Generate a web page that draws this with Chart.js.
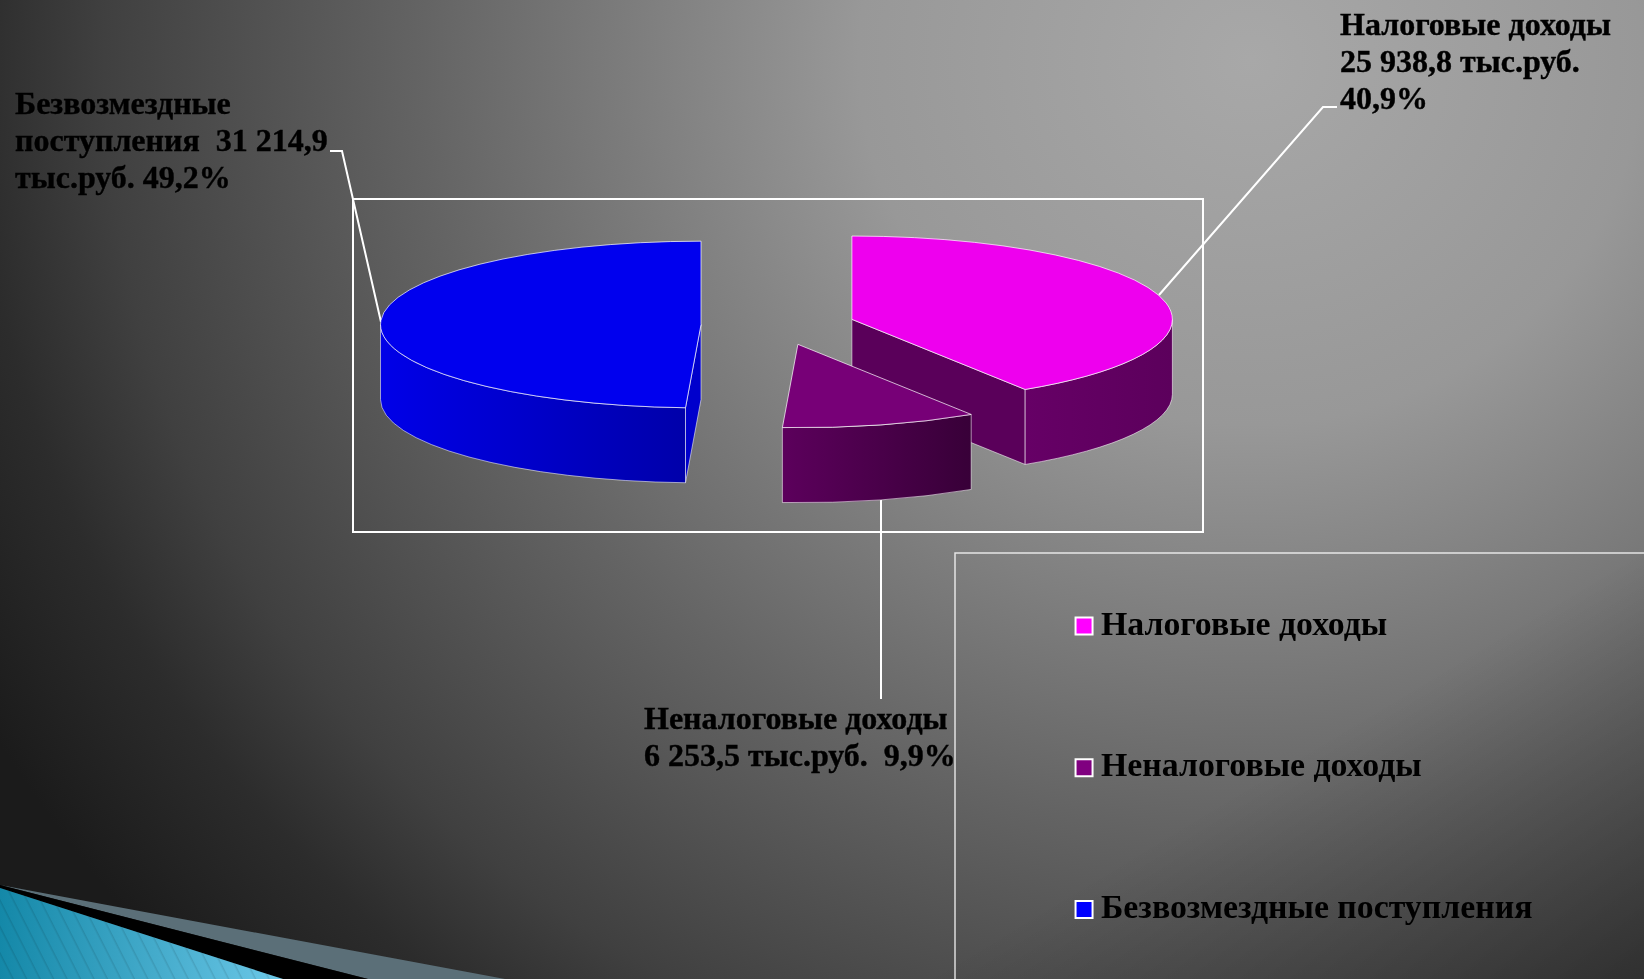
<!DOCTYPE html>
<html lang="ru">
<head>
<meta charset="utf-8">
<title>Доходы</title>
<script src="https://cdn.jsdelivr.net/npm/chart.js@4"></script>
<style>
  html, body { margin: 0; padding: 0; width: 1644px; height: 979px; overflow: hidden; }
  body {
    background:
      linear-gradient(to top left, rgba(0,0,0,0.35), rgba(0,0,0,0) 22%),
      radial-gradient(ellipse 1450px 1350px at 1250px 60px, #a8a8a8 0, #989898 27%, #646464 57%, #404040 79%, #2c2c2c 88%, #1b1b1b 100%);
  }
  #deco, #chart { position: absolute; left: 0; top: 0; }
</style>
</head>
<body>
<svg id="deco" width="1644" height="979">
  <defs>
    <linearGradient id="teal" x1="0" y1="0" x2="1" y2="0">
      <stop offset="0" stop-color="#1488a8"/>
      <stop offset="1" stop-color="#6cc8e8"/>
    </linearGradient>
    <pattern id="hatch" width="12" height="12" patternUnits="userSpaceOnUse" patternTransform="rotate(63)">
      <rect width="12" height="1.5" fill="rgba(0,0,0,0.1)"/>
    </pattern>
  </defs>
  <polygon points="0,885 505,979 368,979" fill="#5b6f78"/>
  <polygon points="0,885 368,979 283,979 0,888" fill="#000"/>
  <polygon points="0,888 283,979 0,979" fill="url(#teal)"/>
  <polygon points="0,888 283,979 0,979" fill="url(#hatch)"/>
</svg>
<canvas id="chart" width="1644" height="979"></canvas>
<script>
const categories = ['Налоговые доходы', 'Неналоговые доходы', 'Безвозмездные поступления']
const values = [25938.8, 6253.5, 31214.9]

const topColors = ['#ee00ee', '#770077', '#0000ee']
const legendColors = ['#ff00ff', '#800080', '#0000ff']
const wallColors = [['#660066', '#5c005c'], ['#5c005c', '#380038'], ['#0000e8', '#0000aa']]
const faceColors = ['#5a005a', '#4a004a', '#0000cc']

const labelLines = [
  ['Налоговые доходы', '25 938,8 тыс.руб.', '40,9%'],
  ['Неналоговые доходы', '6 253,5 тыс.руб.  9,9%'],
  ['Безвозмездные', 'поступления  31 214,9', 'тыс.руб. 49,2%'],
]
const labelAnchors = [[1340, 35], [644, 729], [15, 114]]
const leaders = [
  [[1159, 295], [1323, 107], [1337, 107]],
  [[881, 500], [881, 699]],
  [[381, 322], [342, 151], [330, 151]],
]

const RADIUS = 320.5
const SQUASH = 0.26
const DEPTH = 75
const EXPLODE = 77
const LABEL_FONT = 'bold 32px "Liberation Serif"'

// top face of a slice in screen coordinates
function screenProps(arc, chart) {
  const cy = (chart.chartArea.top + chart.chartArea.bottom) / 2
  return {
    x: arc.x,
    y: cy + (arc.y - cy) * SQUASH,
    a0: arc.startAngle,
    a1: arc.endAngle,
  }
}

function topPath(ctx, s) {
  ctx.beginPath()
  ctx.moveTo(s.x, s.y)
  ctx.ellipse(s.x, s.y, RADIUS, RADIUS * SQUASH, 0, s.a0, s.a1)
  ctx.closePath()
}

function wallPath(ctx, s, from, to) {
  ctx.beginPath()
  ctx.ellipse(s.x, s.y, RADIUS, RADIUS * SQUASH, 0, from, to)
  ctx.ellipse(s.x, s.y + DEPTH, RADIUS, RADIUS * SQUASH, 0, to, from, true)
  ctx.closePath()
}

function facePath(ctx, s, angle) {
  const px = s.x + Math.cos(angle) * RADIUS
  const py = s.y + Math.sin(angle) * RADIUS * SQUASH
  ctx.beginPath()
  ctx.moveTo(s.x, s.y)
  ctx.lineTo(px, py)
  ctx.lineTo(px, py + DEPTH)
  ctx.lineTo(s.x, s.y + DEPTH)
  ctx.closePath()
}

// faces and walls of one slice that can be seen from the front
function sidePaths(s) {
  const paths = []
  if (s.a0 > Math.PI / 2 && s.a0 < Math.PI * 1.5) paths.push({ face: s.a0 })
  if (s.a1 > -Math.PI / 2 && s.a1 < Math.PI / 2) paths.push({ face: s.a1 })
  const from = Math.max(s.a0, 0)
  const to = Math.min(s.a1, Math.PI)
  if (to > from) paths.push({ from, to })
  return paths
}

const pie3d = {
  id: 'pie3d',
  afterDatasetsUpdate(chart) {
    const area = chart.chartArea
    const cx = (area.left + area.right) / 2
    const cy = (area.top + area.bottom) / 2
    chart.getDatasetMeta(0).data.forEach((arc) => {
      const mid = (arc.startAngle + arc.endAngle) / 2
      arc.x = cx + Math.cos(mid) * EXPLODE
      arc.y = cy + Math.sin(mid) * EXPLODE
    })
  },
  afterLayout(chart) {
    const legend = chart.legend
    const padding = legend.options.labels.padding
    legend.left = 1084 - padding
    legend.right = legend.left + legend.width
    legend.top = 609 - padding
    legend.bottom = legend.top + legend.height
  },
  beforeDatasetDraw(chart) {
    const ctx = chart.ctx
    const arcs = chart.getDatasetMeta(0).data
    const area = chart.chartArea
    const cy = (area.top + area.bottom) / 2

    ctx.save()
    ctx.strokeStyle = '#fff'
    ctx.lineWidth = 2
    ctx.strokeRect(353, 199, 850, 333)
    leaders.forEach((pts) => {
      ctx.beginPath()
      pts.forEach((p, i) => (i ? ctx.lineTo(p[0], p[1]) : ctx.moveTo(p[0], p[1])))
      ctx.stroke()
    })
    ctx.strokeStyle = 'rgba(255,255,255,0.8)'
    ctx.lineWidth = 1.5
    ctx.beginPath()
    ctx.moveTo(955, 979)
    ctx.lineTo(955, 553)
    ctx.lineTo(1644, 553)
    ctx.stroke()

    // back slices first, the small one stands in front
    ;[0, 2, 1].forEach((i) => {
      const s = screenProps(arcs[i], chart)
      sidePaths(s).forEach((p) => {
        if (p.face !== undefined) {
          facePath(ctx, s, p.face)
          ctx.fillStyle = faceColors[i]
        } else {
          const x0 = s.x + Math.cos(p.to) * RADIUS
          const x1 = s.x + Math.cos(p.from) * RADIUS
          const grad = ctx.createLinearGradient(Math.min(x0, x1), 0, Math.max(x0, x1), 0)
          grad.addColorStop(0, wallColors[i][0])
          grad.addColorStop(1, wallColors[i][1])
          wallPath(ctx, s, p.from, p.to)
          ctx.fillStyle = grad
        }
        ctx.fill()
        ctx.strokeStyle = 'rgba(255,255,255,0.55)'
        ctx.lineWidth = 1
        ctx.stroke()
      })
    })
    ctx.restore()

    ctx.save()
    ctx.translate(0, cy)
    ctx.scale(1, SQUASH)
    ctx.translate(0, -cy)
  },
  afterDatasetDraw(chart) {
    const ctx = chart.ctx
    ctx.restore()
    chart.getDatasetMeta(0).data.forEach((arc) => {
      topPath(ctx, screenProps(arc, chart))
      ctx.strokeStyle = 'rgba(255,255,255,0.7)'
      ctx.lineWidth = 1
      ctx.stroke()
    })
  },
  afterDraw(chart) {
    const ctx = chart.ctx
    ctx.save()
    ctx.font = LABEL_FONT
    ctx.fillStyle = '#000'
    ctx.strokeStyle = '#000'
    ctx.lineWidth = 0.4
    labelLines.forEach((lines, i) => {
      lines.forEach((line, j) => {
        ctx.fillText(line, labelAnchors[i][0], labelAnchors[i][1] + j * 36.8)
        ctx.strokeText(line, labelAnchors[i][0], labelAnchors[i][1] + j * 36.8)
      })
    })
    ctx.restore()
  },
}

new Chart(document.getElementById('chart'), {
  type: 'pie',
  data: {
    labels: categories,
    datasets: [
      {
        data: values,
        backgroundColor: topColors,
        borderWidth: 0,
        radius: RADIUS,
        clip: false,
      },
    ],
  },
  options: {
    responsive: false,
    animation: false,
    layout: {
      padding: { left: 0, right: 88, top: 0, bottom: 329 },
    },
    plugins: {
      tooltip: { enabled: false },
      legend: {
        position: 'chartArea',
        align: 'start',
        labels: {
          color: '#000',
          font: { family: '"Liberation Serif"', size: 33.8, weight: 'bold' },
          padding: 108,
          usePointStyle: true,
          pointStyle: 'rect',
          boxWidth: 0.1,
          boxHeight: 17,
          generateLabels(chart) {
            return Chart.overrides.pie.plugins.legend.labels.generateLabels(chart).map((item, i) => ({
              ...item,
              fillStyle: legendColors[i],
              strokeStyle: '#fff',
              lineWidth: 2,
            }))
          },
        },
      },
    },
  },
  plugins: [pie3d],
})
</script>
</body>
</html>
